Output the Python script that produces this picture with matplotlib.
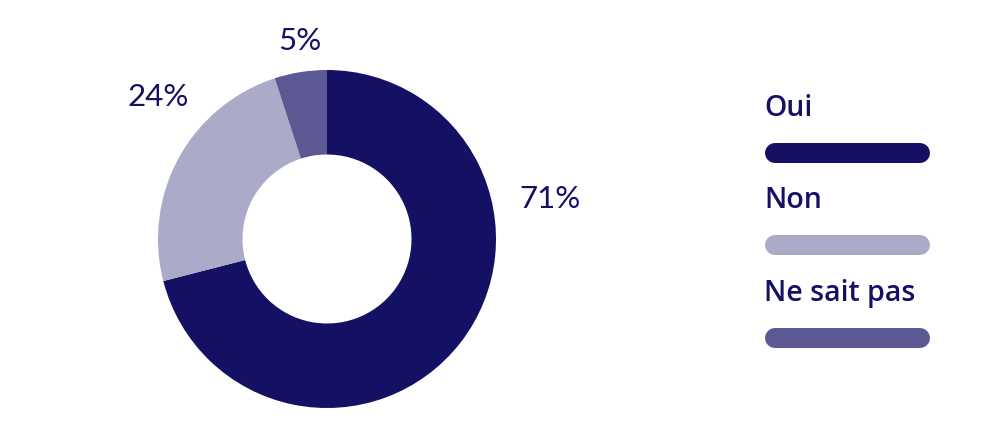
import matplotlib
matplotlib.use("Agg")
import matplotlib.pyplot as plt

labels = ["Oui", "Non", "Ne sait pas"]
values = [71, 24, 5]
colors = ["#141064", "#ABABC9", "#5B5893"]
# label positions (relative to pie radius)
label_pos = [(1.32, 0.235), (-1.0, 0.84), (-0.16, 1.17)]

W, H = 982, 440
fig = plt.figure(figsize=(W / 100, H / 100), dpi=100)
text_color = "#141064"
font = ["Lato", "DejaVu Sans"]

# donut
cx, cy, r = 327, 239, 169
ax = fig.add_axes([(cx - r) / W, (H - cy - r) / H, 2 * r / W, 2 * r / H])
ax.pie(values, colors=colors, startangle=90, counterclock=False,
       radius=1, wedgeprops=dict(width=0.5, linewidth=0))
ax.set_xlim(-1, 1)
ax.set_ylim(-1, 1)
ax.set_aspect("equal")
ax.axis("off")
for v, (x, y) in zip(values, label_pos):
    ax.text(x, y, f"{v}%", ha="center", va="center", fontsize=22.5,
            color=text_color, family=font, clip_on=False)

# legend
lax = fig.add_axes([0, 0, 1, 1])
lax.set_xlim(0, W)
lax.set_ylim(H, 0)
lax.axis("off")
for i, (lab, c) in enumerate(zip(labels, colors)):
    y0 = 108 + i * 92.5
    lax.text(764, y0, lab, ha="left", va="center", fontsize=20.5,
             color=text_color, family=["Open Sans", "DejaVu Sans"],
             fontweight="semibold")
    lax.plot([775, 920], [y0 + 45, y0 + 45], color=c, lw=14.4,
             solid_capstyle="round")

fig.savefig("out.png", dpi=100)
